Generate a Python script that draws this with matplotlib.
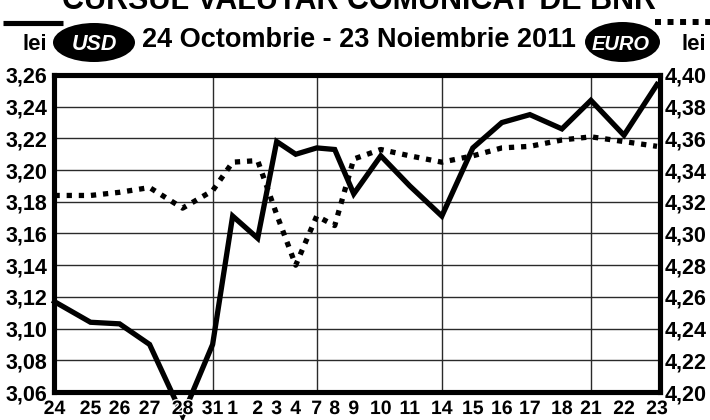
import matplotlib
matplotlib.use("Agg")
import matplotlib.pyplot as plt
from matplotlib.patches import Ellipse
from matplotlib.lines import Line2D
from matplotlib.ticker import FuncFormatter
import matplotlib.patheffects as pe

plt.rcParams['font.family'] = ['Liberation Sans', 'DejaVu Sans']
plt.rcParams['font.weight'] = 'bold'

# ---- data ----
day_labels = ["24", "25", "26", "27", "28", "31", "1", "2", "3", "4", "7", "8",
              "9", "10", "11", "14", "15", "16", "17", "18", "21", "22", "23"]
# horizontal position of each trading day along the axis (0..606)
x_pos = [1, 37, 66, 96, 129, 159, 179, 204, 223, 242, 263, 281,
         300, 327, 356, 388, 419, 448, 476, 508, 537, 570, 603]
usd = [3.117, 3.104, 3.103, 3.090, 3.045, 3.090, 3.171, 3.157, 3.218, 3.210,
       3.214, 3.213, 3.185, 3.209, 3.190, 3.171, 3.214, 3.230, 3.235, 3.226,
       3.244, 3.222, 3.254]
eur = [4.324, 4.324, 4.326, 4.329, 4.316, 4.327, 4.345, 4.346, 4.312, 4.280,
       4.311, 4.305, 4.347, 4.353, 4.349, 4.345, 4.349, 4.354, 4.355, 4.359,
       4.361, 4.358, 4.355]
usd_ticks = [3.06, 3.08, 3.10, 3.12, 3.14, 3.16, 3.18, 3.20, 3.22, 3.24, 3.26]
eur_ticks = [4.20, 4.22, 4.24, 4.26, 4.28, 4.30, 4.32, 4.34, 4.36, 4.38, 4.40]
monday_idx = [5, 10, 15, 20]

title = "CURSUL VALUTAR COMUNICAT DE BNR"
subtitle = "24 Octombrie - 23 Noiembrie 2011"

W, H = 710, 420
fig = plt.figure(figsize=(W / 100, H / 100), dpi=100)
fig.patch.set_facecolor('white')


def fx(px):
    return px / W


def fy(py):
    return 1 - py / H


L, R, T, B = 53.5, 660, 75, 392
ax = fig.add_axes([fx(L), fy(B), fx(R) - fx(L), fy(T) - fy(B)])
ax.set_xlim(0, 606)
ax.set_ylim(usd_ticks[0], usd_ticks[-1])
ax.set_axisbelow(False)

comma = FuncFormatter(lambda v, p: f"{v:.2f}".replace('.', ','))

# grid
for t in usd_ticks[1:-1]:
    ax.axhline(t, color='#2a2a2a', lw=1.0, zorder=1)
for i in monday_idx:
    ax.axvline(x_pos[i], color='#2a2a2a', lw=1.0, zorder=1)

ax.plot(x_pos, usd, color='black', lw=3.8, solid_joinstyle='miter',
        clip_on=False, zorder=2)

ax.set_yticks(usd_ticks)
ax.yaxis.set_major_formatter(comma)
ax.set_xticks(x_pos)
ax.set_xticklabels(day_labels)
ax.tick_params(axis='y', length=0, pad=4.5, labelsize=15.5)
ax.tick_params(axis='x', length=0, pad=6.5, labelsize=14)
for lab in ax.get_xticklabels():
    lab.set_path_effects([pe.withStroke(linewidth=2, foreground='white')])
for s in ax.spines.values():
    s.set_linewidth(3.7)
    s.set_color('black')

ax2 = ax.twinx()
ax2.set_ylim(eur_ticks[0], eur_ticks[-1])
ax2.plot(x_pos, eur, color='black', lw=3.8, linestyle=(0, (1, 1.3)),
         dash_capstyle='butt', zorder=2)
ax2.set_yticks(eur_ticks)
ax2.yaxis.set_major_formatter(comma)
ax2.tick_params(axis='y', length=0, pad=3.5, labelsize=15.5)
for s in ax2.spines.values():
    s.set_visible(False)

# ---- header ----
fig.text(fx(359), fy(9), title, ha='center', va='baseline', fontsize=22,
         fontweight='bold')
fig.add_artist(Line2D([fx(3), fx(63)], [fy(22.5)] * 2, lw=3.7, color='black',
                      solid_capstyle='butt'))
fig.add_artist(Line2D([fx(655), fx(710)], [fy(21.5)] * 2, lw=4.3, color='black',
                      linestyle=(0, (1, 1.1)), dash_capstyle='butt'))
fig.text(fx(35), fy(50), "lei", ha='center', va='baseline', fontsize=16)
fig.text(fx(694), fy(50), "lei", ha='center', va='baseline', fontsize=16)
fig.add_artist(Ellipse((fx(94), fy(42.5)), 82 / W, 39 / H,
                       transform=fig.transFigure, facecolor='black',
                       edgecolor='none'))
fig.add_artist(Ellipse((fx(622.5), fy(42)), 75 / W, 40 / H,
                       transform=fig.transFigure, facecolor='black',
                       edgecolor='none'))
fig.text(fx(94), fy(50), "USD", color='white', style='italic', ha='center',
         va='baseline', fontsize=15.5)
fig.text(fx(621), fy(50), "EURO", color='white', style='italic', ha='center',
         va='baseline', fontsize=14.5)
fig.text(fx(358.5), fy(47), subtitle, ha='center', va='baseline',
         fontsize=19.5)

fig.savefig('out.png', dpi=100)
